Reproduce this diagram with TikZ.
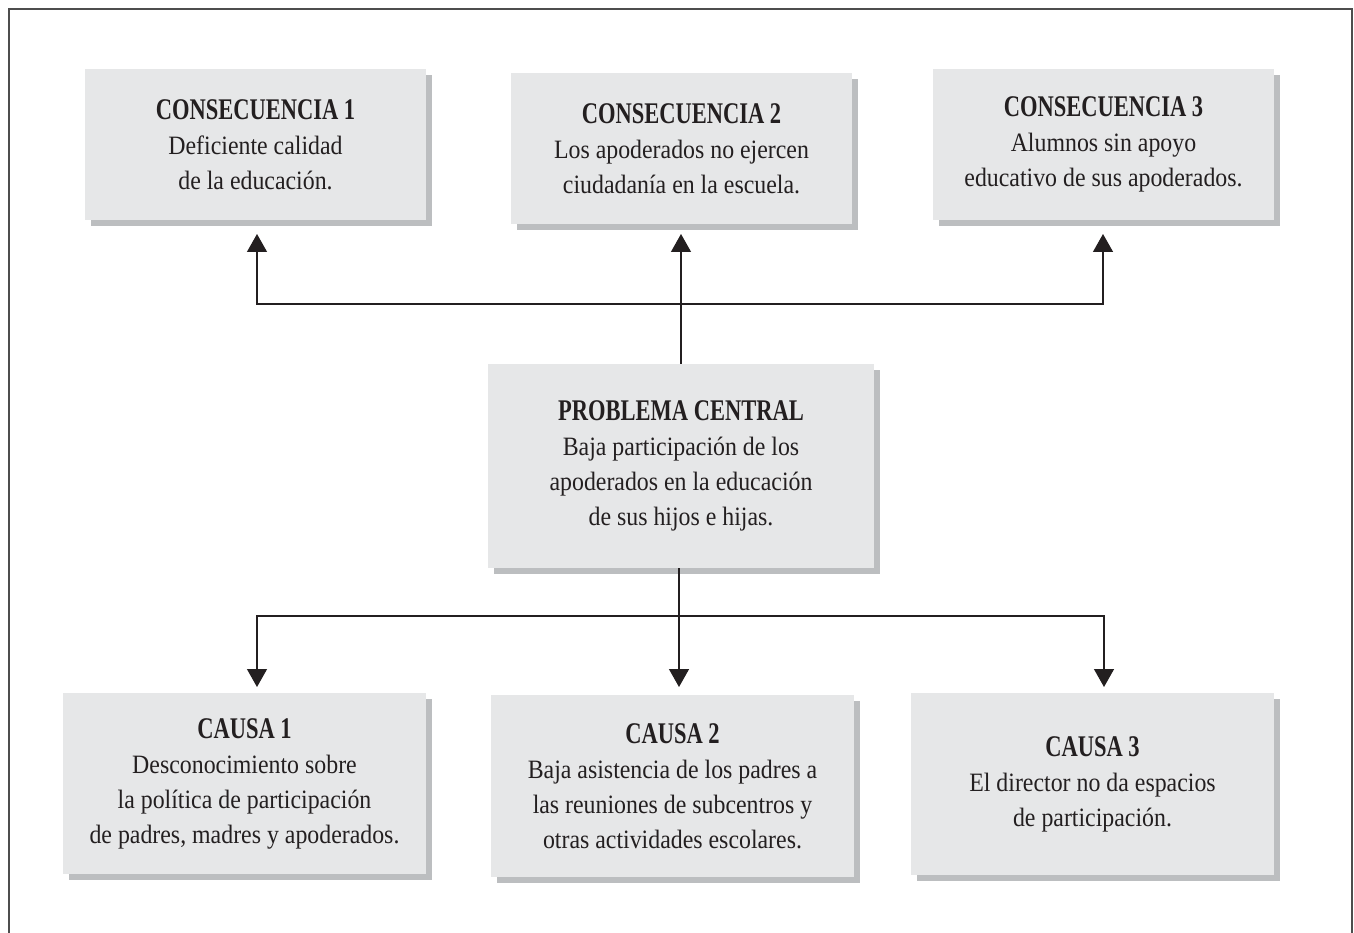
\documentclass[tikz,border=0pt]{standalone}
\usepackage{fontspec}
\setmainfont{Liberation Serif}
\newfontfamily\bodyf{Liberation Serif}[FakeStretch=0.9]
\newfontfamily\titlef{Liberation Serif}[FakeStretch=0.75]
\usetikzlibrary{arrows.meta,shadows}
\definecolor{boxgray}{HTML}{E6E7E8}
\definecolor{shadowgray}{HTML}{BCBEC0}
\definecolor{ink}{HTML}{231F20}
\definecolor{framegray}{HTML}{4D4D4D}
\newcommand{\ttl}[1]{{\titlef\bfseries\fontsize{30}{35}\selectfont #1}}
\tikzset{
  box/.style={fill=boxgray, inner sep=0pt, align=center, text=ink,
    font=\bodyf\fontsize{26.5}{35}\selectfont,
    drop shadow={shadow xshift=6pt, shadow yshift=-6pt, fill=shadowgray, opacity=1}},
  conn/.style={draw=ink, line width=1.3pt},
  arr/.style={conn, -{Triangle[length=18pt,width=20pt]}}
}
\begin{document}
\begin{tikzpicture}[x=1pt,y=-1pt]
\useasboundingbox (0,0) rectangle (1354,933);
\fill[white] (0,0) rectangle (1354,933);
\draw[framegray, line width=1.5pt] (9,934) -- (9,9) -- (1352,9) -- (1352,934);

\node[box, minimum width=341pt, minimum height=151pt] (c1) at (255.5,144.5)
  {\ttl{CONSECUENCIA 1}\\Deficiente calidad\\de la educación.};
\node[box, minimum width=341pt, minimum height=151pt] (c2) at (681.5,148.5)
  {\ttl{CONSECUENCIA 2}\\Los apoderados no ejercen\\ciudadanía en la escuela.};
\node[box, minimum width=341pt, minimum height=151pt] (c3) at (1103.5,144.5)
  {\ttl{CONSECUENCIA 3}\\Alumnos sin apoyo\\educativo de sus apoderados.};
\node[box, minimum width=386pt, minimum height=204pt] (p) at (681,466)
  {\ttl{PROBLEMA CENTRAL}\\Baja participación de los\\apoderados en la educación\\de sus hijos e hijas.};
\node[box, minimum width=363pt, minimum height=181pt] (k1) at (244.5,783.5)
  {\ttl{CAUSA 1}\\Desconocimiento sobre\\la política de participación\\de padres, madres y apoderados.};
\node[box, minimum width=363pt, minimum height=182pt] (k2) at (672.5,786)
  {\ttl{CAUSA 2}\\Baja asistencia de los padres a\\las reuniones de subcentros y\\otras actividades escolares.};
\node[box, minimum width=363pt, minimum height=182pt] (k3) at (1092.5,784)
  {\ttl{CAUSA 3}\\El director no da espacios\\de participación.};

\coordinate (t1) at (257,234);
\coordinate (t2) at (681,234);
\coordinate (t3) at (1103,234);
\coordinate (ub) at (681,304);
\coordinate (b1) at (257,687);
\coordinate (b2) at (679,687);
\coordinate (b3) at (1104,687);
\coordinate (lb) at (679,616);

\draw[arr] (p.north) -- (t2);
\draw[arr] (ub) -| (t1);
\draw[arr] (ub) -| (t3);
\draw[arr] (b2 |- p.south) -- (b2);
\draw[arr] (lb) -| (b1);
\draw[arr] (lb) -| (b3);
\end{tikzpicture}
\end{document}
